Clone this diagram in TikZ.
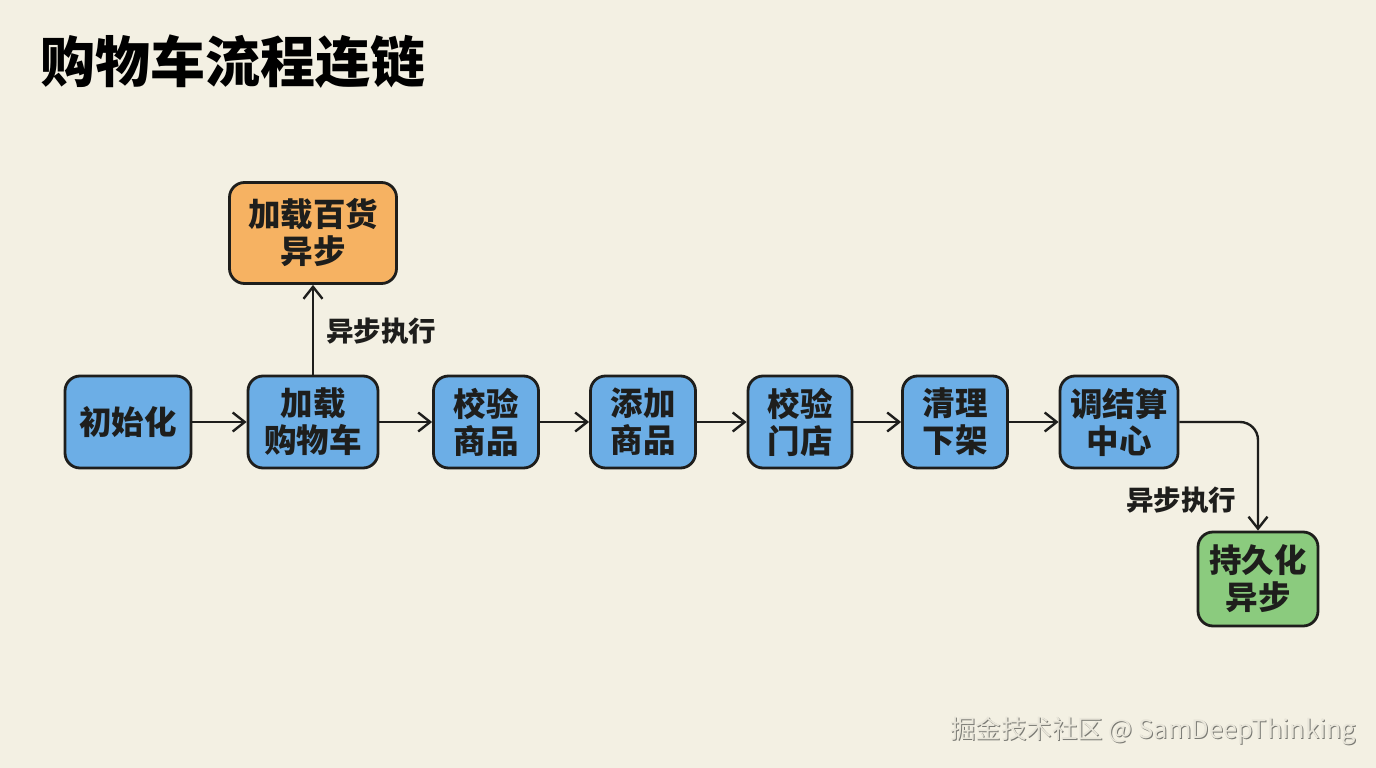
\documentclass[tikz,border=0pt]{standalone}
\usepackage{fontspec}
\setmainfont{Noto Sans CJK SC}
\usetikzlibrary{arrows.meta}
\definecolor{bg}{HTML}{F3F0E3}
\definecolor{ink}{HTML}{1E1E1C}
\definecolor{bluefill}{HTML}{6CAEE6}
\definecolor{orangefill}{HTML}{F6B262}
\definecolor{greenfill}{HTML}{8BCB7E}
\definecolor{wmdark}{HTML}{7A7A74}
\definecolor{wmlight}{HTML}{E9E6DA}
\begin{document}
\begin{tikzpicture}[x=1pt,y=-1pt,
  box/.style={draw=ink, line width=2.8pt, rounded corners=15pt, align=center,
    font=\fontsize{32.5}{37}\selectfont\bfseries, inner sep=0pt, text=ink},
  bluebox/.style={box, fill=bluefill},
  arr/.style={draw=ink, line width=2.4pt, -{Straight Barb[length=12pt,width=19pt,line width=2.4pt]}},
  lbl/.style={font=\fontsize{27.5}{30}\selectfont\bfseries, text=ink, inner sep=0pt},
  wm/.style={font=\fontsize{25.5}{28}\selectfont, inner sep=0pt}
]
\path[fill=bg] (0,0) rectangle (1376,768);
\useasboundingbox (0,0) rectangle (1376,768);

\node[font=\fontsize{55}{60}\selectfont\bfseries, anchor=west, inner sep=0pt, text=black] (title) at (40,62) {购物车流程连链};

\node[bluebox, minimum width=126pt, minimum height=92pt] (n1) at (128,422) {初始化};
\node[bluebox, minimum width=130pt, minimum height=92pt] (n2) at (313,422) {加载\\购物车};
\node[bluebox, minimum width=105pt, minimum height=92pt] (n3) at (486,422) {校验\\商品};
\node[bluebox, minimum width=105pt, minimum height=92pt] (n4) at (643,422) {添加\\商品};
\node[bluebox, minimum width=104pt, minimum height=92pt] (n5) at (800,422) {校验\\门店};
\node[bluebox, minimum width=105pt, minimum height=92pt] (n6) at (955,422) {清理\\下架};
\node[bluebox, minimum width=118pt, minimum height=92pt] (n7) at (1119,422) {调结算\\中心};
\node[box, fill=orangefill, minimum width=167pt, minimum height=101pt] (a1) at (313,233) {加载百货\\异步};
\node[box, fill=greenfill, minimum width=120pt, minimum height=94pt] (a2) at (1258,579) {持久化\\异步};

\draw[arr] (n1) -- (n2);
\draw[arr] (n2) -- (n3);
\draw[arr] (n3) -- (n4);
\draw[arr] (n4) -- (n5);
\draw[arr] (n5) -- (n6);
\draw[arr] (n6) -- (n7);
\draw[arr] (n2) -- (a1);
\draw[arr, rounded corners=18pt] (n7.east) -- (n7.east -| a2.north) -- (a2.north);

\node[lbl, anchor=west] (l1) at (326,331) {异步执行};
\node[lbl, anchor=west] (l2) at (1126,500) {异步执行};

\node[wm, anchor=west, text=wmdark] (wm0) at (951,732) {掘金技术社区 @ SamDeepThinking};
\node[wm, anchor=west, text=wmlight] (wm) at (950,731) {掘金技术社区 @ SamDeepThinking};
\end{tikzpicture}
\end{document}
